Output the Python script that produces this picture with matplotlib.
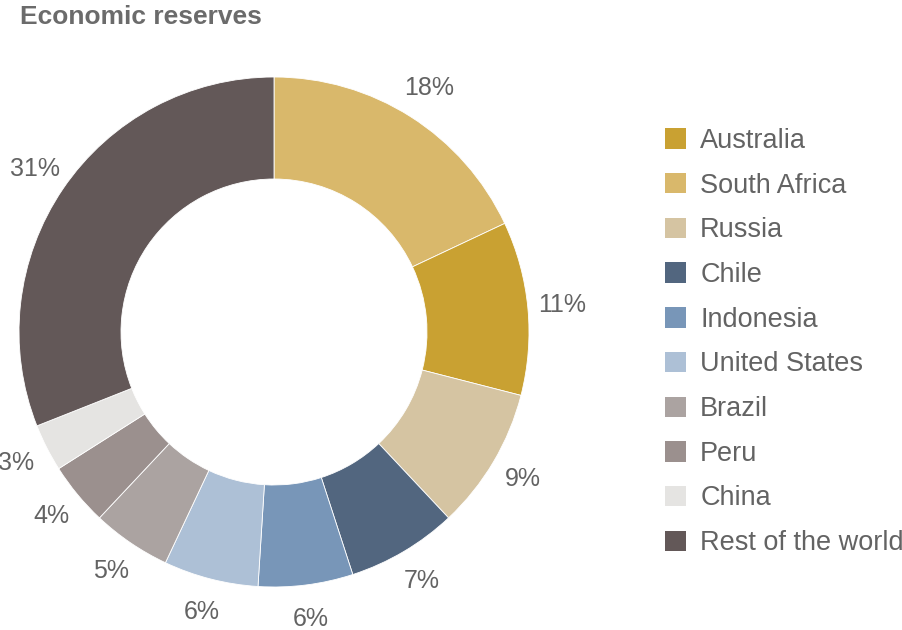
import matplotlib
matplotlib.use("Agg")
import matplotlib.pyplot as plt

plt.rcParams['font.family'] = ['Liberation Sans', 'DejaVu Sans']

# Share of economic reserves, clockwise from 12 o'clock
slice_countries = ["South Africa", "Australia", "Russia", "Chile", "Indonesia",
                   "United States", "Brazil", "Peru", "China", "Rest of the world"]
slice_shares = [18, 11, 9, 7, 6, 6, 5, 4, 3, 31]
slice_colors = ["#d9b86b", "#c9a132", "#d5c4a2", "#52667f", "#7896b8",
                "#adc0d6", "#aba3a1", "#9b908e", "#e5e4e2", "#635858"]

# Order in which the countries are listed in the legend
legend_order = ["Australia", "South Africa", "Russia", "Chile", "Indonesia",
                "United States", "Brazil", "Peru", "China", "Rest of the world"]

W, H = 902, 630
fig = plt.figure(figsize=(W / 100, H / 100), dpi=100)
ax = fig.add_axes([0, 0, 1, 1])

text_color = "#636363"

wedges, texts = ax.pie(
    slice_shares,
    colors=slice_colors,
    labels=[f"{v}%" for v in slice_shares],
    labeldistance=1.135,
    startangle=90,
    counterclock=False,
    center=(274, H - 332),
    radius=255,
    wedgeprops=dict(width=102, edgecolor="white", linewidth=0.6),
    textprops=dict(color=text_color, fontsize=18),
    frame=True,
)
for t in texts:
    t.set_horizontalalignment("center")
    t.set_verticalalignment("center")

ax.set_xlim(0, W)
ax.set_ylim(0, H)
ax.set_aspect('equal')
ax.axis('off')

fig.text(20 / W, 1 - 17 / H, "Economic reserves", fontsize=19, fontweight="bold",
         color="#6b6b6b", ha="left", va="center")

handle_map = dict(zip(slice_countries, wedges))
leg = ax.legend(
    [handle_map[c] for c in legend_order], legend_order,
    loc="upper left",
    bbox_to_anchor=(665 / W, 1 - 128 / H),
    bbox_transform=fig.transFigure,
    frameon=False,
    fontsize=19.5,
    handlelength=0.78,
    handleheight=0.78,
    handletextpad=0.52,
    labelspacing=0.69,
    borderpad=0,
    borderaxespad=0,
)
for txt in leg.get_texts():
    txt.set_color(text_color)
for h in leg.legend_handles:
    h.set_edgecolor("none")

fig.savefig("out.png", dpi=100)
